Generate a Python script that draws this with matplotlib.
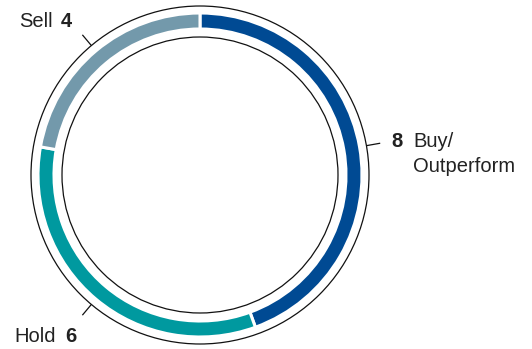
import matplotlib.pyplot as plt
import numpy as np
from matplotlib.patches import Circle

plt.rcParams['font.family'] = ['Liberation Sans', 'DejaVu Sans']

# analyst recommendations
labels = ['Buy/\nOutperform', 'Hold', 'Sell']
counts = [8, 6, 4]
colors = ['#004a93', '#00999f', '#7399ab']

W, H = 532, 349
cx, cy = 200, H - 175

fig = plt.figure(figsize=(W / 100, H / 100), dpi=100)
ax = fig.add_axes([0, 0, 1, 1])

wedges, _ = ax.pie(counts, colors=colors, radius=162, center=(cx, cy),
                   startangle=90, counterclock=False, frame=True,
                   wedgeprops=dict(width=16, edgecolor='white', linewidth=2.2))
ax.set_xlim(0, W)
ax.set_ylim(0, H)
ax.set_aspect('equal')
ax.axis('off')

# thin outer and inner rings
for r in (169, 138):
    ax.add_patch(Circle((cx, cy), r, fill=False, edgecolor='#111111', lw=0.9))

# leader ticks at the middle of each segment
total = sum(counts)
start = 0
mids = []
for c in counts:
    mids.append(np.deg2rad((start + c / 2) / total * 360))
    start += c
for a in mids:
    r0, r1 = 169, 183
    ax.plot([cx + r0 * np.sin(a), cx + r1 * np.sin(a)],
            [cy + r0 * np.cos(a), cy + r1 * np.cos(a)],
            color='#111111', lw=0.9, solid_capstyle='butt')

fs = 14.5
tc = '#222222'
# Buy/Outperform
ax.text(391, H - 147, str(counts[0]), fontsize=fs, fontweight='bold', color=tc,
        ha='left', va='baseline')
ax.text(413, H - 147, labels[0].split('\n')[0], fontsize=fs, color=tc,
        ha='left', va='baseline')
ax.text(413, H - 172, labels[0].split('\n')[1], fontsize=fs, color=tc,
        ha='left', va='baseline')
# Hold
ax.text(14, H - 342, labels[1], fontsize=fs, color=tc, ha='left', va='baseline')
ax.text(65, H - 342, str(counts[1]), fontsize=fs, fontweight='bold', color=tc,
        ha='left', va='baseline')
# Sell
ax.text(19, H - 27, labels[2], fontsize=fs, color=tc, ha='left', va='baseline')
ax.text(61, H - 27, str(counts[2]), fontsize=fs, fontweight='bold', color=tc,
        ha='left', va='baseline')

fig.savefig('out.png', dpi=100, facecolor='white')
